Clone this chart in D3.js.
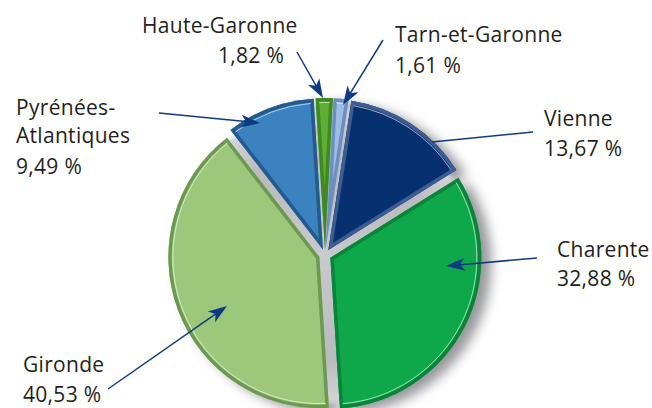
<!DOCTYPE html>
<html>
<head>
<meta charset="utf-8">
<script src="https://cdn.jsdelivr.net/npm/d3@7"></script>
<style>
  html, body { margin: 0; padding: 0; background: #ffffff; }
  svg { display: block; }
  text { font-family: "Open Sans", "Noto Sans", sans-serif; fill: #231f20; }
</style>
</head>
<body>
<svg id="chart" width="652" height="408"></svg>
<script>
// ---- data ----
const categories = ["Tarn-et-Garonne", "Vienne", "Charente", "Gironde", "Pyrénées-Atlantiques", "Haute-Garonne"];
const values = [1.61, 13.67, 32.88, 40.53, 9.49, 1.82];
const labelLines = [["Tarn-et-Garonne"], ["Vienne"], ["Charente"], ["Gironde"], ["Pyrénées-", "Atlantiques"], ["Haute-Garonne"]];

// ---- styles / layout ----
const fills  = ["#9dbde3", "#06306f", "#0ea84a", "#9dc87b", "#3a82c0", "#5fae33"];
const bevels = ["#6d8fbf", "#3d5c91", "#0a8438", "#6d9852", "#245a8d", "#3e8a22"];
const cx = 325, cy = 255, R = 151, explode = 6;
const startDeg = 3;
const labelLayout = [
  { lines: [[395, 42]], value: [395, 73] },
  { lines: [[544, 126]], value: [544, 156] },
  { lines: [[557, 257]], value: [557, 286] },
  { lines: [[23, 372]], value: [23, 402] },
  { lines: [[16, 115], [16, 143]], value: [16, 174] },
  { lines: [[142, 33]], value: [218, 63] }
];
const arrows = [
  [383, 40, 343, 105, true],
  [533, 132, 432, 142, false],
  [537, 258, 446, 266, true],
  [108, 389, 227, 306, true],
  [159, 113, 260, 123, true],
  [297, 52, 323, 98, true]
];

const svg = d3.select("#chart");
const defs = svg.append("defs");

const blur = defs.append("filter").attr("id", "shadow").attr("x", "-20%").attr("y", "-20%").attr("width", "140%").attr("height", "140%");
blur.append("feGaussianBlur").attr("stdDeviation", 6);
const blur2 = defs.append("filter").attr("id", "soft").attr("x", "-20%").attr("y", "-20%").attr("width", "140%").attr("height", "140%");
blur2.append("feGaussianBlur").attr("stdDeviation", 2);

const gapGrad = defs.append("radialGradient").attr("id", "gapGrad");
gapGrad.append("stop").attr("offset", "0%").attr("stop-color", "#c9cacd");
gapGrad.append("stop").attr("offset", "70%").attr("stop-color", "#b9babe");
gapGrad.append("stop").attr("offset", "100%").attr("stop-color", "#d4d5d8");

const pie = d3.pie().sort(null).value(d => d)
  .startAngle(startDeg * Math.PI / 180)
  .endAngle(startDeg * Math.PI / 180 + 2 * Math.PI);
const arcs = pie(values);
const arc = d3.arc().innerRadius(0).outerRadius(R);
const hiArc = d3.arc().innerRadius(R - 4.5).outerRadius(R - 4.5);

function offset(d) {
  const m = (d.startAngle + d.endAngle) / 2;
  return [explode * Math.sin(m), -explode * Math.cos(m)];
}

// drop shadow
const sh = svg.append("g").attr("transform", `translate(${cx + 10},${cy + 5})`).attr("filter", "url(#shadow)");
sh.selectAll("path").data(arcs).enter().append("path")
  .attr("d", arc)
  .attr("transform", d => `translate(${offset(d)})`)
  .attr("fill", "#85868b").attr("opacity", 0.85);

// gap base
svg.append("circle").attr("cx", cx).attr("cy", cy).attr("r", R - 2)
  .attr("fill", "url(#gapGrad)").attr("filter", "url(#soft)");

const g = svg.append("g").attr("transform", `translate(${cx},${cy})`);
const slices = g.selectAll("g.slice").data(arcs).enter().append("g")
  .attr("class", "slice")
  .attr("transform", d => `translate(${offset(d)})`);

slices.each(function(d, i) {
  const s = d3.select(this);
  const id = "clip" + i;
  const ox = cx + offset(d)[0], oy = cy + offset(d)[1];
  defs.append("clipPath").attr("id", id).append("path").attr("d", arc(d))
    .attr("transform", `translate(${ox},${oy})`);
  s.append("path").attr("d", arc(d)).attr("fill", fills[i]);
  s.append("g").attr("clip-path", `url(#${id})`).attr("transform", `translate(${-ox},${-oy})`)
    .append("path").attr("d", arc(d))
    .attr("transform", `translate(${ox},${oy})`)
    .attr("fill", "none").attr("stroke", bevels[i]).attr("stroke-width", 7).attr("stroke-linejoin", "round");
  s.append("path").attr("d", hiArc({ startAngle: d.startAngle + 0.02, endAngle: d.endAngle - 0.02 }))
    .attr("fill", "none").attr("stroke", "#ffffff").attr("stroke-opacity", 0.35).attr("stroke-width", 1);
});

// arrows
const arrowColor = "#0d3b82";
const ag = svg.append("g");
arrows.forEach(a => {
  const [x1, y1, x2, y2, head] = a;
  const ang = Math.atan2(y2 - y1, x2 - x1);
  ag.append("line").attr("x1", x1).attr("y1", y1)
    .attr("x2", head ? x2 - 12 * Math.cos(ang) : x2)
    .attr("y2", head ? y2 - 12 * Math.sin(ang) : y2)
    .attr("stroke", arrowColor).attr("stroke-width", 1.5);
  if (head) {
    ag.append("path").attr("d", "M0,0 L-19,-6.5 L-14,0 L-19,6.5 Z")
      .attr("fill", arrowColor)
      .attr("transform", `translate(${x2},${y2}) rotate(${ang * 180 / Math.PI})`);
  }
});

// labels
const fmt = v => d3.format(".2f")(v).replace(".", ",") + " %";
const lg = svg.append("g").attr("font-size", 21).attr("letter-spacing", 0.3);
categories.forEach((c, i) => {
  const L = labelLayout[i];
  labelLines[i].forEach((t, j) => {
    lg.append("text").attr("x", L.lines[j][0]).attr("y", L.lines[j][1]).text(t);
  });
  lg.append("text").attr("x", L.value[0]).attr("y", L.value[1]).text(fmt(values[i]));
});
</script>
</body>
</html>
